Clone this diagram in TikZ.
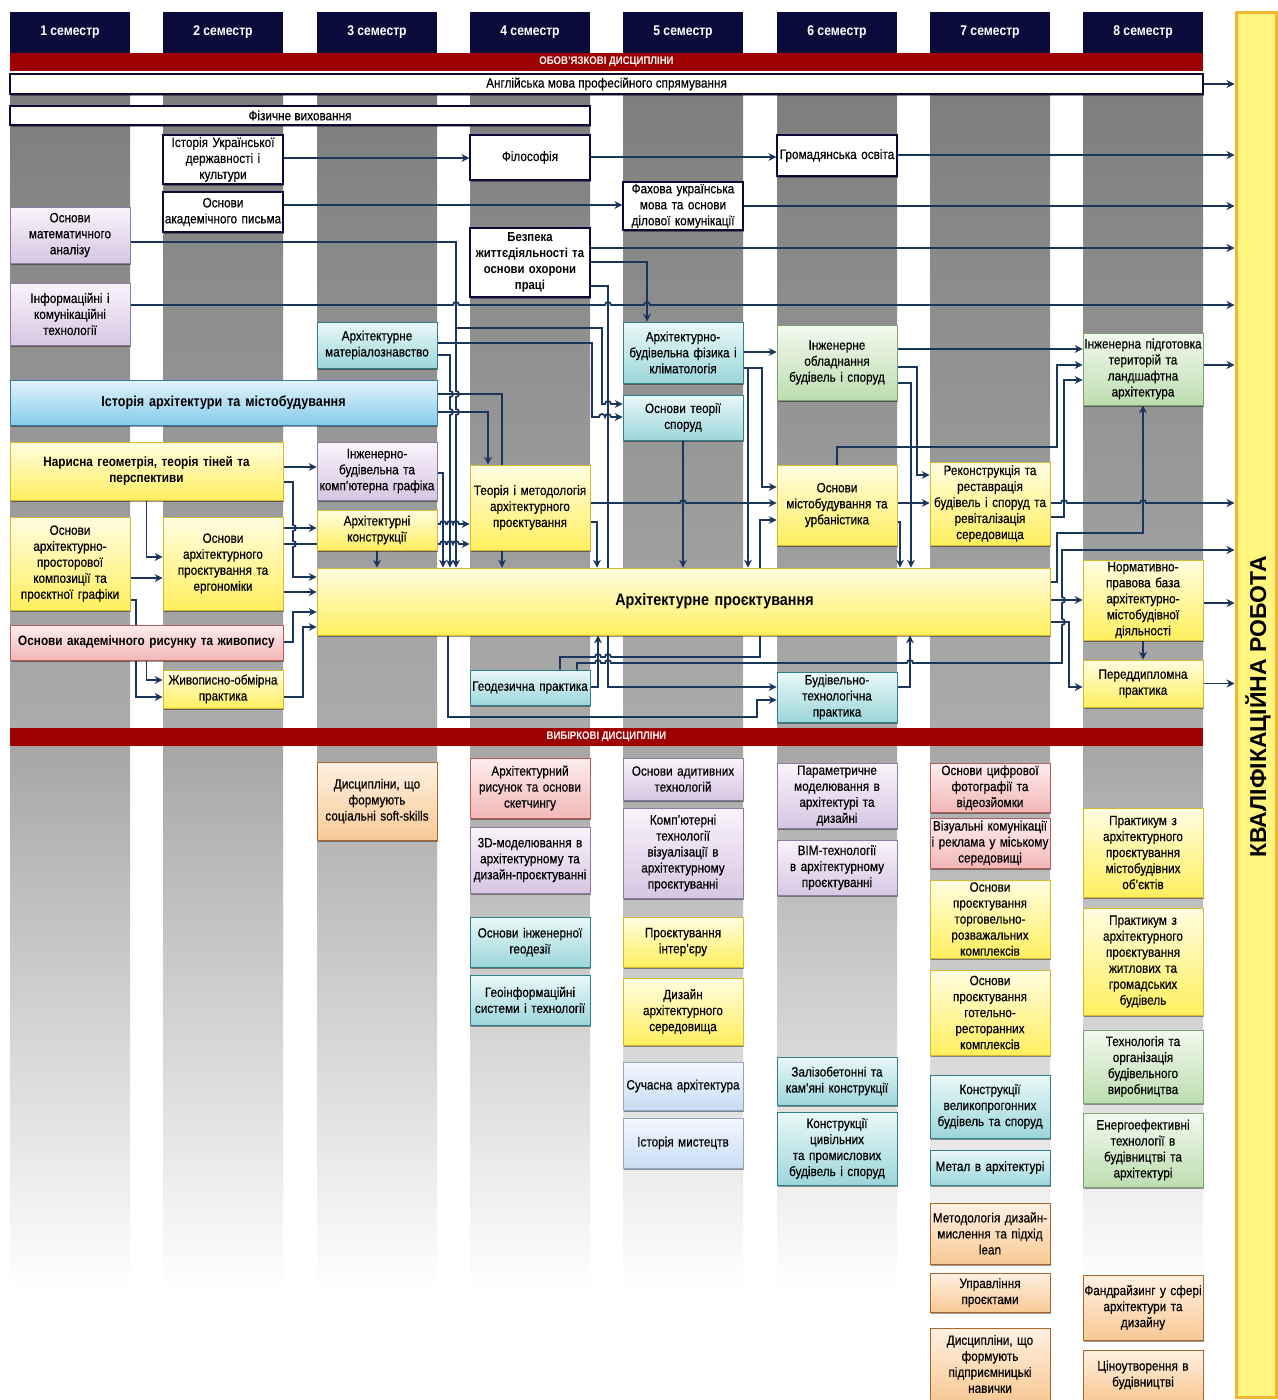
\documentclass[tikz,border=0pt]{standalone}
\usepackage{fontspec}
\setmainfont{Liberation Sans}[FakeStretch=0.87,UprightFeatures={FakeBold=0.4}]
\newfontfamily\kvfont{Liberation Sans}
\usetikzlibrary{arrows.meta,shadows}
\pgfdeclarelayer{back}\pgfdeclarelayer{lines}
\pgfsetlayers{back,lines,main}
\definecolor{navy}{HTML}{0B0B3B}
\definecolor{bandc}{HTML}{9E0000}
\definecolor{lc}{HTML}{1B365D}
\definecolor{yT}{HTML}{FFFDE2}\definecolor{yB}{HTML}{FFEF5E}\definecolor{yD}{HTML}{D9B830}
\definecolor{tT}{HTML}{EAF8F8}\definecolor{tB}{HTML}{9CD6DA}\definecolor{tD}{HTML}{2E7F86}
\definecolor{lT}{HTML}{FAF3FB}\definecolor{lB}{HTML}{D6C6E2}\definecolor{lD}{HTML}{8E7BA0}
\definecolor{bT}{HTML}{E4F3FB}\definecolor{bB}{HTML}{86CBEA}\definecolor{bD}{HTML}{2F7EA8}
\definecolor{pT}{HTML}{FDEDED}\definecolor{pB}{HTML}{F3B7B7}\definecolor{pD}{HTML}{B85A5A}
\definecolor{gT}{HTML}{F2F9EE}\definecolor{gB}{HTML}{BDDDB0}\definecolor{gD}{HTML}{7FA66F}
\definecolor{oT}{HTML}{FEF1E2}\definecolor{oB}{HTML}{F8C995}\definecolor{oD}{HTML}{A8662A}
\definecolor{sT}{HTML}{F4F8FE}\definecolor{sB}{HTML}{C9DCF3}\definecolor{sD}{HTML}{8FA6C6}
\definecolor{stT}{HTML}{7E7E7E}\definecolor{stB}{HTML}{ABABAB}\definecolor{elT}{HTML}{A6A6A6}
\definecolor{kvF}{HTML}{FFF57F}\definecolor{kvD}{HTML}{F2B632}
\newcommand\bxf{\fontsize{13.5}{16}\selectfont}
\newcommand\bxb{\fontsize{13.5}{16.5}\selectfont\bfseries}
\tikzset{
 shd/.style={drop shadow={shadow xshift=1.2pt,shadow yshift=-1.8pt,opacity=0.4,fill=black}},
 bx/.style={rectangle,align=center,inner xsep=0pt,inner ysep=0pt,font=\bxf,text=black,shd,line width=0.7pt},
 cw/.style={bx,minimum width=120pt,text width=120pt},
 boxY/.style={top color=yT,bottom color=yB,draw=yD},
 boxT/.style={top color=tT,bottom color=tB,draw=tD},
 boxL/.style={top color=lT,bottom color=lB,draw=lD},
 boxB/.style={top color=bT,bottom color=bB,draw=bD},
 boxP/.style={top color=pT,bottom color=pB,draw=pD},
 boxG/.style={top color=gT,bottom color=gB,draw=gD},
 boxO/.style={top color=oT,bottom color=oB,draw=oD},
 boxS/.style={top color=sT,bottom color=sB,draw=sD},
 boxW/.style={fill=white,draw=navy,line width=1.2pt},
 hdr/.style={rectangle,fill=navy,minimum width=120pt,minimum height=41pt,inner sep=0pt,text=white,font=\fontsize{14}{16}\selectfont\bfseries},
 bandst/.style={rectangle,fill=bandc,minimum width=1193pt,minimum height=18pt,inner sep=0pt,text=white,font=\fontsize{11}{13}\selectfont\bfseries},
 arw/.style={draw=lc,line width=1.8pt,-{Stealth[length=8pt,width=8pt]}},
 hh/.style 2 args={insert path={-- ({#1-3},#2) arc[start angle=180,end angle=0,radius=3pt]}},
 vd/.style 2 args={insert path={-- (#1,{#2-3}) arc[start angle=90,end angle=-90,radius=3pt]}},
 vu/.style 2 args={insert path={-- (#1,{#2+3}) arc[start angle=-90,end angle=90,radius=3pt]}},
}
\begin{document}
\begin{tikzpicture}[x=1pt,y=-1pt]
\useasboundingbox (0,0) rectangle (1277,1400);
\begin{pgfonlayer}{back}
\fill[white] (0,0) rectangle (1277,1400);
\foreach \l in {10,163,317,470,623,777,930,1083}{
  \shade[top color=stT,bottom color=stB] (\l,95) rectangle ({\l+120},727);
  \shade[top color=elT,bottom color=white] (\l,746) rectangle ({\l+120},1290);
}
\end{pgfonlayer}
% headers
\node[hdr] (h1) at (70,32.5) {1 семестр};
\node[hdr] (h2) at (223,32.5) {2 семестр};
\node[hdr] (h3) at (377,32.5) {3 семестр};
\node[hdr] (h4) at (530,32.5) {4 семестр};
\node[hdr] (h5) at (683,32.5) {5 семестр};
\node[hdr] (h6) at (837,32.5) {6 семестр};
\node[hdr] (h7) at (990,32.5) {7 семестр};
\node[hdr] (h8) at (1143,32.5) {8 семестр};
\node[bandst] (rb1) at (606.5,62) {ОБОВ'ЯЗКОВІ ДИСЦИПЛІНИ};
\node[bx,boxW,minimum width=1193pt,minimum height=20pt] (eng) at (606.5,84) {Англійська мова професійного спрямування};
\node[bx,boxW,minimum width=580pt,minimum height=19pt] (fizv) at (300,115.5) {Фізичне виховання};
% qualification work
\node[draw=kvD,line width=3pt,fill=kvF,minimum width=40pt,minimum height=1385pt,inner sep=0pt] (kv) at (1256,705) {};
\node[rotate=90,font={\kvfont\fontsize{23}{26}\selectfont\bfseries}] (kvl) at (1258,707) {КВАЛІФІКАЦІЙНА РОБОТА};
% mandatory
\node[cw,boxW,minimum height=49pt] (ukr) at (223,159.5) {Історія Української\\державності і\\культури};
\node[cw,boxW,minimum height=40pt] (pys) at (223,212) {Основи\\академічного письма};
\node[cw,boxL,minimum height=56pt] (mat) at (70,235) {Основи\\математичного\\аналізу};
\node[cw,boxL,minimum height=62pt] (inf) at (70,314) {Інформаційні і\\комунікаційні\\технології};
\node[cw,boxW,minimum height=45pt] (fil) at (530,157.5) {Філософія};
\node[cw,boxW,minimum height=41pt] (hrom) at (837,155.5) {Громадянська освіта};
\node[cw,boxW,minimum height=48pt] (fakh) at (683,206) {Фахова українська\\мова та основи\\ділової комунікації};
\node[cw,boxW,minimum height=69pt,font=\fontsize{13}{16}\selectfont\bfseries] (bezp) at (530,262.5) {Безпека\\життєдіяльності та\\основи охорони\\праці};
\node[cw,boxT,minimum height=46pt] (mater) at (377,345) {Архітектурне\\матеріалознавство};
\node[bx,boxB,minimum width=427pt,text width=420pt,minimum height=45pt,font=\fontsize{14.5}{17}\selectfont\bfseries] (istarch) at (223.5,402.5) {Історія архітектури та містобудування};
\node[bx,boxY,minimum width=273pt,text width=266pt,minimum height=58pt,font=\bxb] (nar) at (146.5,471) {Нарисна геометрія, теорія тіней та\\перспективи};
\node[cw,boxL,minimum height=58pt] (inzhgr) at (377,471) {Інженерно-\\будівельна та\\комп'ютерна графіка};
\node[cw,boxY,minimum height=40pt] (konst) at (377,530) {Архітектурні\\конструкції};
\node[cw,boxY,minimum height=93pt] (kompoz) at (70,563.5) {Основи\\архітектурно-\\просторової\\композиції та\\проєктної графіки};
\node[cw,boxY,minimum height=93pt] (ergon) at (223,563.5) {Основи\\архітектурного\\проєктування та\\ергономіки};
\node[bx,boxP,minimum width=273pt,text width=270pt,minimum height=35pt,font=\bxb] (rys) at (146.5,642.5) {Основи академічного рисунку та живопису};
\node[cw,boxY,minimum height=38pt] (zhyv) at (223,689) {Живописно-обмірна\\практика};
\node[bx,boxY,minimum width=733pt,text width=720pt,minimum height=67pt,font=\fontsize{16.5}{20}\selectfont\bfseries] (ap) at (683.5,601.5) {\hspace*{62pt}Архітектурне проєктування};
\node[cw,boxY,minimum height=85pt] (teor) at (530,507.5) {Теорія і методологія\\архітектурного\\проєктування};
\node[cw,boxT,minimum height=61pt] (fiz) at (683,352.5) {Архітектурно-\\будівельна фізика і\\кліматологія};
\node[cw,boxT,minimum height=45pt] (osnteor) at (683,417.5) {Основи теорії\\споруд};
\node[cw,boxG,minimum height=75pt] (inzhobl) at (837,362.5) {Інженерне\\обладнання\\будівель і споруд};
\node[cw,boxY,minimum height=80pt] (misto) at (837,505) {Основи\\містобудування та\\урбаністика};
\node[cw,boxY,minimum height=83pt] (rekon) at (990,503.5) {Реконструкція та\\реставрація\\будівель і споруд та\\ревіталізація\\середовища};
\node[cw,boxG,minimum height=72pt] (inzhpid) at (1143,369) {Інженерна підготовка\\територій та\\ландшафтна\\архітектура};
\node[cw,boxY,minimum height=80pt] (norm) at (1143,600) {Нормативно-\\правова база\\архітектурно-\\містобудівної\\діяльності};
\node[cw,boxY,minimum height=47pt] (peredd) at (1143,683.5) {Переддипломна\\практика};
\node[cw,boxT,minimum height=35pt] (geod) at (530,687.5) {Геодезична практика};
\node[cw,boxT,minimum height=50pt] (budtech) at (837,697) {Будівельно-\\технологічна\\практика};
% electives
\node[bandst] (rb2) at (606.5,736.5) {ВИБІРКОВІ ДИСЦИПЛІНИ};
\node[cw,boxO,minimum height=78pt] (soft) at (377,801) {Дисципліни, що\\формують\\соціальні soft-skills};
\node[cw,boxP,minimum height=60pt] (arkhrys) at (530,788) {Архітектурний\\рисунок та основи\\скетчингу};
\node[cw,boxL,minimum height=66pt] (tridm) at (530,860) {3D-моделювання в\\архітектурному та\\дизайн-проєктуванні};
\node[cw,boxT,minimum height=50pt] (inzhgeod) at (530,942) {Основи інженерної\\геодезії};
\node[cw,boxT,minimum height=50pt] (geoinf) at (530,1000) {Геоінформаційні\\системи і технології};
\node[cw,boxL,minimum height=42pt] (adyt) at (683,779) {Основи адитивних\\технологій};
\node[cw,boxL,minimum height=90pt] (komptech) at (683,853) {Комп'ютерні\\технології\\візуалізації в\\архітектурному\\проєктуванні};
\node[cw,boxY,minimum height=50pt] (interier) at (683,942) {Проєктування\\інтер'єру};
\node[cw,boxY,minimum height=67pt] (dyzain) at (683,1011.5) {Дизайн\\архітектурного\\середовища};
\node[cw,boxS,minimum height=48pt] (suchasna) at (683,1086) {Сучасна архітектура};
\node[cw,boxS,minimum height=50pt] (istmyst) at (683,1143) {Історія мистецтв};
\node[cw,boxL,minimum height=65pt] (param) at (837,795.5) {Параметричне\\моделювання в\\архітектурі та\\дизайні};
\node[cw,boxL,minimum height=55pt] (bim) at (837,867.5) {BIM-технології\\в архітектурному\\проєктуванні};
\node[cw,boxT,minimum height=48pt] (zalbet) at (837,1081) {Залізобетонні та\\кам'яні конструкції};
\node[cw,boxT,minimum height=73pt] (konstcyv) at (837,1148.5) {Конструкції\\цивільних\\та промислових\\будівель і споруд};
\node[cw,boxP,minimum height=49pt] (foto) at (990,787.5) {Основи цифрової\\фотографії та\\відеозйомки};
\node[cw,boxP,minimum height=50pt] (vizkom) at (990,843) {Візуальні комунікації\\і реклама у міському\\середовищі};
\node[cw,boxY,minimum height=78pt] (torg) at (990,919) {Основи\\проєктування\\торговельно-\\розважальних\\комплексів};
\node[cw,boxY,minimum height=85pt] (hotel) at (990,1012.5) {Основи\\проєктування\\готельно-\\ресторанних\\комплексів};
\node[cw,boxT,minimum height=63pt] (velyk) at (990,1106.5) {Конструкції\\великопрогонних\\будівель та споруд};
\node[cw,boxT,minimum height=35pt] (metal) at (990,1167.5) {Метал в архітектурі};
\node[cw,boxO,minimum height=61pt] (metod) at (990,1233.5) {Методологія дизайн-\\мислення та підхід\\lean};
\node[cw,boxO,minimum height=39pt] (uprav) at (990,1292.5) {Управління\\проєктами};
\node[cw,boxO,minimum height=72pt] (pidpr) at (990,1364) {Дисципліни, що\\формують\\підприємницькі\\навички};
\node[cw,boxY,minimum height=89pt] (prakt1) at (1143,852.5) {Практикум з\\архітектурного\\проєктування\\містобудівних\\об'єктів};
\node[cw,boxY,minimum height=107pt] (prakt2) at (1143,961.5) {Практикум з\\архітектурного\\проєктування\\житлових та\\громадських\\будівель};
\node[cw,boxG,minimum height=73pt] (tekhorg) at (1143,1066.5) {Технологія та\\організація\\будівельного\\виробництва};
\node[cw,boxG,minimum height=74pt] (energo) at (1143,1150) {Енергоефективні\\технології в\\будівництві та\\архітектурі};
\node[cw,boxO,minimum height=65pt] (fandr) at (1143,1307.5) {Фандрайзинг у сфері\\архітектури та\\дизайну};
\node[cw,boxO,minimum height=50pt] (tsino) at (1143,1375) {Ціноутворення в\\будівництві};
% connectors
\begin{pgfonlayer}{lines}
\draw[arw] (eng.east) -- (kv.west |- eng.east);
\draw[arw] (ukr.east |- 0,158) -- (fil.west |- 0,158);
\draw[arw] (fil.east |- 0,157) -- (hrom.west |- 0,157);
\draw[arw] (hrom.east |- 0,155) -- (kv.west |- 0,155);
\draw[arw] (pys.east |- 0,205) -- (fakh.west |- 0,205);
\draw[arw] (fakh.east |- 0,206) -- (kv.west |- 0,206);
\draw[arw] (bezp.east |- 0,248) -- (kv.west |- 0,248);
\draw[arw] (bezp.east |- 0,262) -- (647,262) -- (fiz.north -| 647,0);
\draw[arw] (inf.east |- 0,305) [hh={456}{305}] [hh={608}{305}] [hh={647}{305}] -- (kv.west |- 0,305);
\draw[arw] (mat.east |- 0,242) -- (456,242) [vd={456}{394}] [vd={456}{412}] -- (ap.north -| 456,0);
\coordinate (j1) at (456,328);
\draw[arw] (j1) -- (602,328) -- (602,404) [hh={608}{404}] -- (osnteor.west |- 0,404);
\draw[arw] (mater.east |- 0,343) -- (592,343) -- (592,417) [hh={602}{417}] [hh={608}{417}] -- (osnteor.west |- 0,417);
\draw[arw] (mater.east |- 0,355) -- (450,355) [vd={450}{394}] [vd={450}{412}] -- (ap.north -| 450,0);
\draw[arw] (bezp.east |- 0,286) -- (608,286) -- (608,687) -- (budtech.west |- 0,687);
\draw[arw] (istarch.east |- 0,394) -- (502,394) -- (ap.north -| 502,0);
\draw[arw] (istarch.east |- 0,412) -- (488,412) -- (teor.north -| 488,0);
\draw[arw] (inzhgr.east |- 0,473) -- (443,473) -- (ap.north -| 443,0);
\draw[arw] (nar.east |- 0,467) -- (inzhgr.west |- 0,467);
\draw[arw] (nar.east |- 0,482) -- (293,482) [vd={293}{528}] [vd={293}{544}] -- (293,577) -- (ap.west |- 0,577);
\draw[arw] (nar.south) -- (nar.south |- 0,557) -- (ergon.west |- 0,557);
\draw[arw] (kompoz.east |- 0,578) -- (ergon.west |- 0,578);
\draw[arw] (kompoz.east |- 0,600) -- (136,600) -- (136,697) -- (zhyv.west |- 0,697);
\draw[arw] (rys.south) -- (rys.south |- 0,680) -- (zhyv.west |- 0,680);
\draw[arw] (rys.east |- 0,642) -- (293,642) -- (293,612) -- (ap.west |- 0,612);
\draw[arw] (zhyv.east |- 0,697) -- (303,697) -- (303,627) -- (ap.west |- 0,627);
\draw[arw] (ergon.east |- 0,528) -- (konst.west |- 0,528);
\draw[arw] (ergon.east |- 0,544) [hh={443}{544}] [hh={450}{544}] [hh={456}{544}] -- (teor.west |- 0,544);
\draw[arw] (konst.east |- 0,524) [hh={443}{524}] [hh={450}{524}] [hh={456}{524}] -- (teor.west |- 0,524);
\draw[arw] (ergon.east |- 0,592) -- (ap.west |- 0,592);
\draw[arw] (konst.south) -- (konst.south |- ap.north);
\draw[arw] (teor.east |- 0,522) -- (597,522) -- (ap.north -| 597,0);
\draw[arw] (teor.east |- 0,503) [hh={683}{503}] -- (misto.west |- 0,503);
\draw[arw] (osnteor.south) -- (osnteor.south |- ap.north);
\draw[arw] (fiz.east |- 0,352) -- (inzhobl.west |- 0,352);
\draw[arw] (fiz.east |- 0,368) -- (762,368) -- (762,487) -- (misto.west |- 0,487);
\coordinate (j2) at (748,368);
\draw[arw] (j2) -- (ap.north -| 748,0);
\draw[arw] (geod.north -| 560,0) -- (560,657) [hh={598}{657}] [hh={608}{657}] -- (760,657) -- (760,520) -- (misto.west |- 0,520);
\draw[arw] (geod.north -| 577,0) -- (577,663) [hh={598}{663}] [hh={608}{663}] [hh={910}{663}] -- (1062,663) [vu={1062}{622}] [vu={1062}{600}] -- (1062,550) -- (kv.west |- 0,550);
\draw[arw] (geod.east |- 0,687) -- (598,687) -- (ap.south -| 598,0);
\draw[arw] (ap.south -| 448,0) -- (448,717) -- (757,717) -- (757,700) -- (budtech.west |- 0,700);
\draw[arw] (budtech.east |- 0,687) -- (910,687) -- (ap.south -| 910,0);
\draw[arw] (inzhobl.east |- 0,349) -- (inzhpid.west |- 0,349);
\draw[arw] (inzhobl.east |- 0,367) -- (917,367) -- (917,475) -- (rekon.west |- 0,475);
\draw[arw] (inzhobl.east |- 0,383) -- (911,383) -- (ap.north -| 911,0);
\draw[arw] (misto.east |- 0,503) -- (rekon.west |- 0,503);
\draw[arw] (misto.east |- 0,522) -- (900,522) -- (ap.north -| 900,0);
\draw[arw] (misto.north) -- (misto.north |- 0,447) -- (1057,447) -- (1057,365) -- (inzhpid.west |- 0,365);
\draw[arw] (rekon.east |- 0,503) [hh={1064}{503}] [hh={1143}{503}] -- (kv.west |- 0,503);
\draw[arw] (rekon.east |- 0,517) -- (1064,517) -- (1064,380) -- (inzhpid.west |- 0,380);
\draw[arw] (ap.east |- 0,582) -- (1057,582) -- (1057,533) -- (1143,533) -- (inzhpid.south);
\draw[arw] (ap.east |- 0,600) -- (norm.west |- 0,600);
\draw[arw] (ap.east |- 0,622) -- (1069,622) -- (1069,687) -- (peredd.west |- 0,687);
\draw[arw] (inzhpid.east |- 0,365) -- (kv.west |- 0,365);
\draw[arw] (norm.east |- 0,603) -- (kv.west |- 0,603);
\draw[arw] (norm.south) -- (peredd.north);
\draw[arw] (peredd.east) -- (kv.west |- peredd.east);
\end{pgfonlayer}
\end{tikzpicture}
\end{document}
